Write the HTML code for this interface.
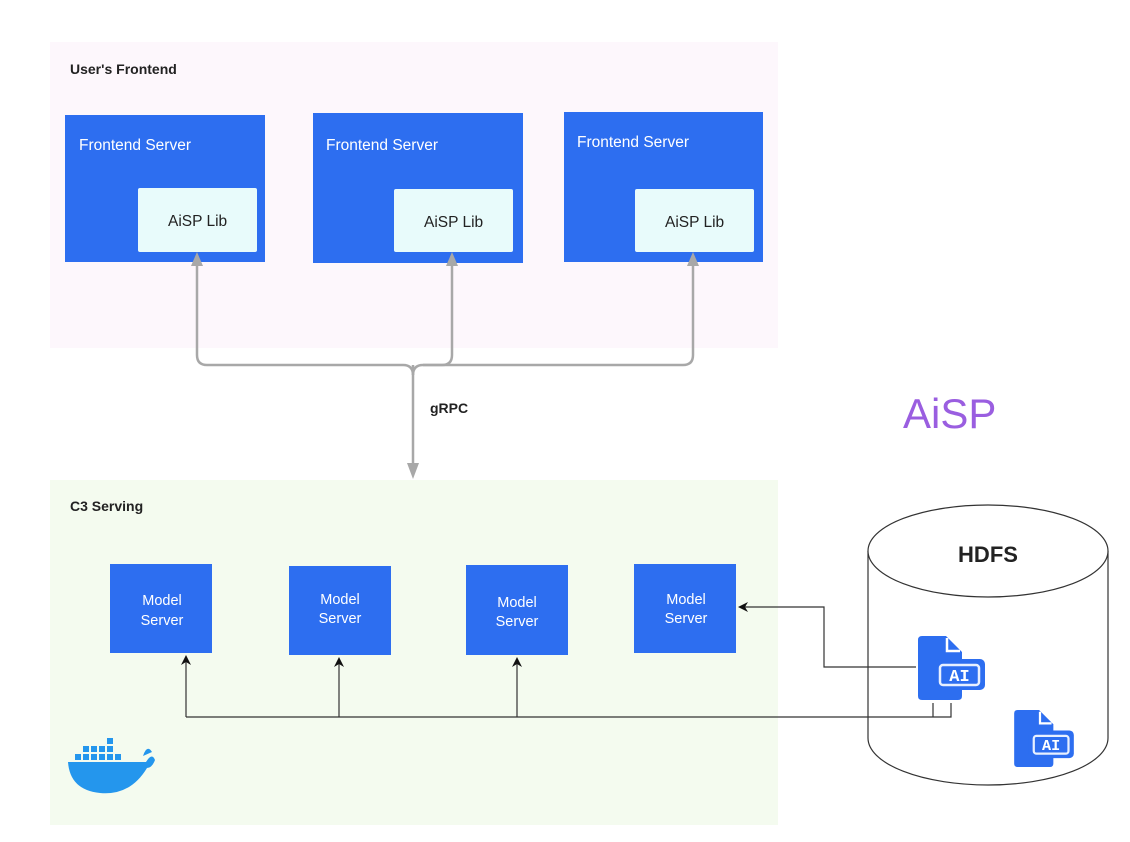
<!DOCTYPE html>
<html><head><meta charset="utf-8"><style>
html,body{margin:0;padding:0;background:#fff;}
svg{display:block;font-family:"Liberation Sans",sans-serif;}
</style></head><body>
<svg width="1130" height="842" viewBox="0 0 1130 842" xmlns="http://www.w3.org/2000/svg">
<defs>
<symbol id="ai" viewBox="0 0 67 64">
<path d="M4,0 H28 L44,16 V60 Q44,64 40,64 H4 Q0,64 0,60 V4 Q0,0 4,0 Z" fill="#2d6ef0"/>
<path d="M29,2 V15 H42" fill="none" stroke="#fff" stroke-width="2.5"/>
<rect x="16" y="23" width="51" height="31" rx="5" fill="#2d6ef0"/>
<rect x="22" y="29" width="39" height="20" rx="3" fill="none" stroke="#e8f0ff" stroke-width="2.5"/>
<text x="41.5" y="45" font-family="Liberation Mono,monospace" font-size="17" fill="#fff" text-anchor="middle" font-weight="bold">AI</text>
</symbol>
</defs>
<rect x="50" y="42" width="728" height="306" fill="#fdf7fc"/>
<rect x="50" y="480" width="728" height="345" fill="#f4fbef"/>
<text x="70" y="74" font-size="14" font-weight="bold" fill="#222">User's Frontend</text>
<text x="70" y="511" font-size="14" font-weight="bold" fill="#222">C3 Serving</text>

<g fill="#2d6ef0">
<rect x="65" y="115" width="200" height="147"/>
<rect x="313" y="113" width="210" height="150"/>
<rect x="564" y="112" width="199" height="150"/>
</g>
<g fill="#fff" font-size="15.5">
<text x="79" y="150">Frontend Server</text>
<text x="326" y="150">Frontend Server</text>
<text x="577" y="147">Frontend Server</text>
</g>
<g fill="#e8fbfb">
<rect x="138" y="188" width="119" height="64" rx="2"/>
<rect x="394" y="189" width="119" height="63" rx="2"/>
<rect x="635" y="189" width="119" height="63" rx="2"/>
</g>
<g fill="#222" font-size="15.5">
<text x="168" y="226">AiSP Lib</text>
<text x="424" y="227">AiSP Lib</text>
<text x="665" y="227">AiSP Lib</text>
</g>

<g fill="none" stroke="#a8a8a8" stroke-width="2.5">
<path d="M197,262 V355 Q197,365 207,365 H403 Q413,365 413,375"/>
<path d="M452,262 V355 Q452,365 442,365 H423 Q413,365 413,375"/>
<path d="M693,262 V355 Q693,365 683,365 H423"/>
<path d="M413,365 V466"/>
</g>
<g fill="#a8a8a8">
<path d="M197,252 L191,266 L203,266 Z"/>
<path d="M452,252 L446,266 L458,266 Z"/>
<path d="M693,252 L687,266 L699,266 Z"/>
<path d="M413,479 L407,463 L419,463 Z"/>
</g>
<text x="430" y="413" font-size="14" font-weight="bold" fill="#222">gRPC</text>
<text x="903" y="428" font-size="42" fill="#9a5ee0">AiSP</text>

<g fill="#2d6ef0">
<rect x="110" y="564" width="102" height="89"/>
<rect x="289" y="566" width="102" height="89"/>
<rect x="466" y="565" width="102" height="90"/>
<rect x="634" y="564" width="102" height="89"/>
</g>
<g fill="#fff" font-size="14.5" text-anchor="middle">
<text x="162" y="605">Model</text><text x="162" y="625">Server</text>
<text x="340" y="604">Model</text><text x="340" y="623">Server</text>
<text x="517" y="607">Model</text><text x="517" y="626">Server</text>
<text x="686" y="604">Model</text><text x="686" y="623">Server</text>
</g>

<path d="M868,551 V738 A120,47 0 0 0 1108,738 V551" fill="#fff" stroke="#333" stroke-width="1.2"/>
<ellipse cx="988" cy="551" rx="120" ry="46" fill="#fff" stroke="#333" stroke-width="1.2"/>
<text x="988" y="562" font-size="22" font-weight="bold" fill="#222" text-anchor="middle">HDFS</text>

<g fill="none" stroke="#333" stroke-width="1.2">
<path d="M186,717 H951 V703 M933,703 V717"/>
<path d="M186,717 V660 M339,717 V662 M517,717 V662"/>
<path d="M916,667 H824 V607 H742"/>
</g>
<g fill="#111">
<path d="M186,655 L181,665 L186,662 L191,665 Z"/>
<path d="M339,657 L334,667 L339,664 L344,667 Z"/>
<path d="M517,657 L512,667 L517,664 L522,667 Z"/>
<path d="M738,607 L748,602 L745,607 L748,612 Z"/>
</g>

<use href="#ai" x="918" y="636" width="67" height="64"/>
<use href="#ai" x="1013" y="710" width="62" height="57"/>

<g fill="#2496ed">
<path d="M68,762 H146 Q152,752 155,760 Q152,768 147,768 Q130,796 100,793 Q70,790 68,762 Z"/>
<path d="M143,756 Q147,744 152,752 Z"/>
<rect x="75" y="754" width="6" height="6"/><rect x="83" y="754" width="6" height="6"/><rect x="91" y="754" width="6" height="6"/><rect x="99" y="754" width="6" height="6"/><rect x="107" y="754" width="6" height="6"/><rect x="115" y="754" width="6" height="6"/>
<rect x="83" y="746" width="6" height="6"/><rect x="91" y="746" width="6" height="6"/><rect x="99" y="746" width="6" height="6"/><rect x="107" y="746" width="6" height="6"/>
<rect x="107" y="738" width="6" height="6"/>
</g>
</svg>
</body></html>
